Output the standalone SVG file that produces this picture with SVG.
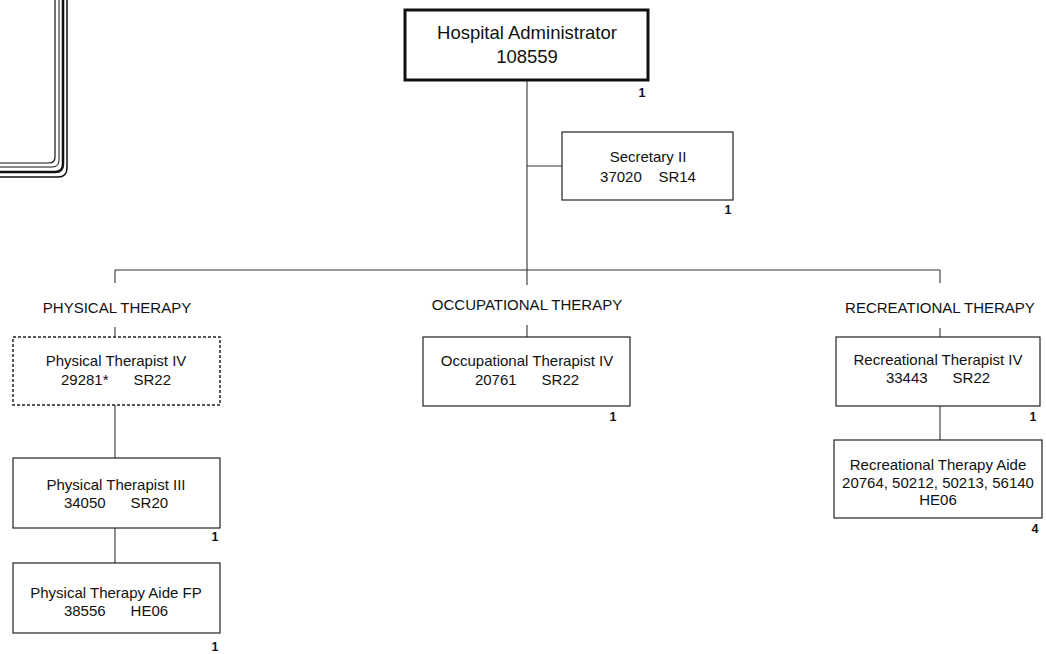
<svg xmlns="http://www.w3.org/2000/svg" width="1046" height="654" viewBox="0 0 1046 654">
<style>
.box{fill:#fff;stroke:#222;stroke-width:1.2}
.dash{fill:#fff;stroke:#222;stroke-width:1.5;stroke-dasharray:3 2}
.main{fill:#fff;stroke:#111;stroke-width:3}
.t{font-family:"Liberation Sans",Arial,sans-serif;font-size:15px;fill:#111;text-anchor:middle}
.big{font-family:"Liberation Sans",Arial,sans-serif;font-size:18.5px;fill:#111;text-anchor:middle}
.n{font-family:"Liberation Sans",Arial,sans-serif;font-size:12.5px;font-weight:bold;fill:#111;text-anchor:middle}
.c{fill:none;stroke:#333;stroke-width:1.1}
.fr{fill:none;stroke:#111}
</style>
<rect width="1046" height="654" fill="#fff"/>
<g id="frame-corner">
<path class="fr" stroke-width="1.2" d="M55 0 V157 Q55 163 49 163 H0"/>
<path class="fr" stroke-width="1" d="M59 0 V160 Q59 167 52 167 H0"/>
<path class="fr" stroke-width="2.5" d="M63 0 V164 Q63 172 55 172 H0"/>
<path class="fr" stroke-width="1.5" d="M67 0 V168 Q67 177 58 177 H0"/>
</g>
<g id="connectors">
<path class="c" d="M527 80 V285"/>
<path class="c" d="M527 166 H562"/>
<path class="c" stroke-width="1.5" d="M115 270 H940"/>
<path class="c" d="M115 270 V283"/>
<path class="c" d="M940 270 V283"/>
<path class="c" d="M115 327 V337"/>
<path class="c" d="M527 325 V337"/>
<path class="c" d="M940 328 V337"/>
<path class="c" d="M115 405 V458"/>
<path class="c" d="M115 528 V563"/>
<path class="c" d="M940 406 V440"/>
</g>
<g id="admin">
<rect class="main" x="405" y="10" width="243" height="70"/>
<text class="big" x="527" y="39">Hospital Administrator</text>
<text class="big" x="527" y="63">108559</text>
<text class="n" x="642" y="97">1</text>
</g>
<g id="secretary">
<rect class="box" x="562" y="132" width="171" height="68"/>
<text class="t" x="648" y="162">Secretary II</text>
<text class="t" x="648" y="182" xml:space="preserve">37020    SR14</text>
<text class="n" x="728" y="214">1</text>
</g>
<g id="dept-pt">
<text class="t" x="117" y="313">PHYSICAL THERAPY</text>
</g>
<g id="dept-ot">
<text class="t" x="527" y="310">OCCUPATIONAL THERAPY</text>
</g>
<g id="dept-rt">
<text class="t" x="940" y="313">RECREATIONAL THERAPY</text>
</g>
<g id="pt4">
<rect class="dash" x="13" y="337" width="207" height="68"/>
<text class="t" x="116" y="366">Physical Therapist IV</text>
<text class="t" x="116" y="385" xml:space="preserve">29281*      SR22</text>
</g>
<g id="pt3">
<rect class="box" x="13" y="458" width="207" height="70"/>
<text class="t" x="116" y="490">Physical Therapist III</text>
<text class="t" x="116" y="508" xml:space="preserve">34050      SR20</text>
<text class="n" x="215" y="541">1</text>
</g>
<g id="pta">
<rect class="box" x="13" y="563" width="207" height="70"/>
<text class="t" x="116" y="598">Physical Therapy Aide FP</text>
<text class="t" x="116" y="616" xml:space="preserve">38556      HE06</text>
<text class="n" x="215" y="651">1</text>
</g>
<g id="ot4">
<rect class="box" x="423" y="337" width="207" height="69"/>
<text class="t" x="527" y="366">Occupational Therapist IV</text>
<text class="t" x="527" y="385" xml:space="preserve">20761      SR22</text>
<text class="n" x="613" y="421">1</text>
</g>
<g id="rt4">
<rect class="box" x="836" y="337" width="204" height="69"/>
<text class="t" x="938" y="365">Recreational Therapist IV</text>
<text class="t" x="938" y="383" xml:space="preserve">33443      SR22</text>
<text class="n" x="1033" y="421">1</text>
</g>
<g id="rta">
<rect class="box" x="834" y="440" width="208" height="78"/>
<text class="t" x="938" y="470">Recreational Therapy Aide</text>
<text class="t" x="938" y="488">20764, 50212, 50213, 56140</text>
<text class="t" x="938" y="505">HE06</text>
<text class="n" x="1035" y="533">4</text>
</g>
</svg>
